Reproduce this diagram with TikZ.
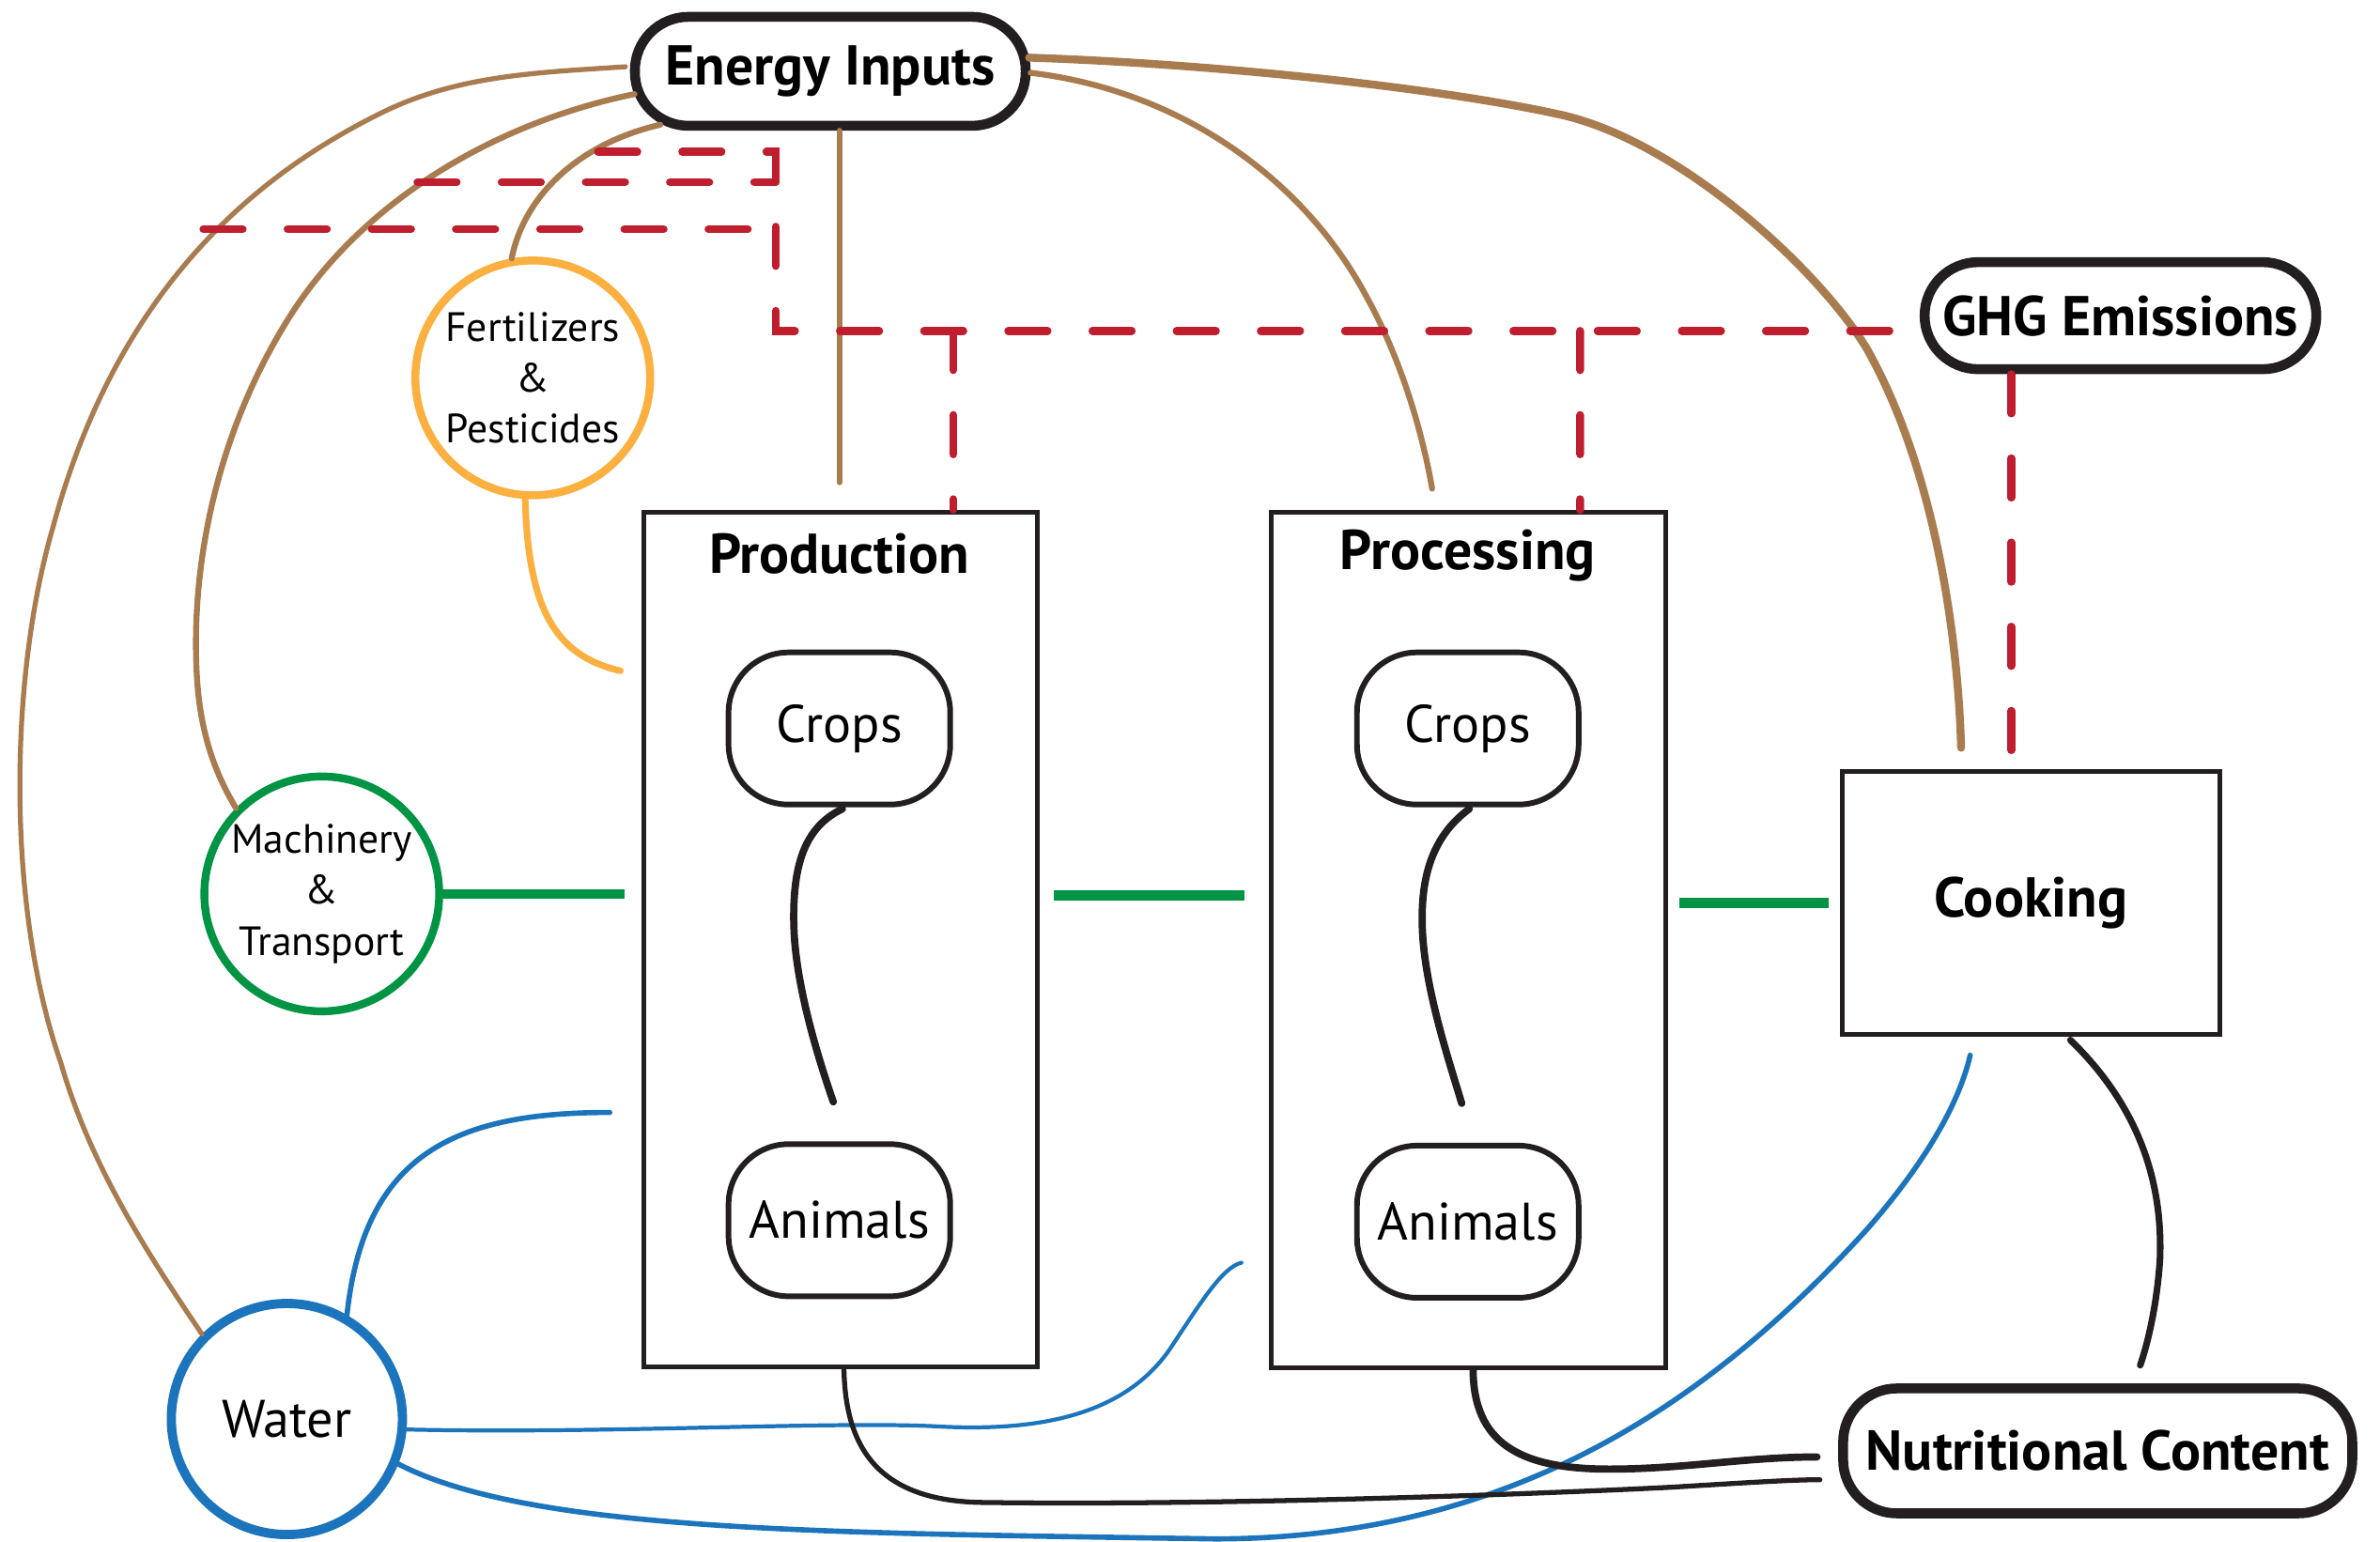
\documentclass[tikz,border=0pt]{standalone}
\usepackage{fontspec}
\setmainfont{PT Sans}
\usetikzlibrary{calc}
\definecolor{ebrown}{HTML}{A97C50}
\definecolor{ered}{HTML}{BE1E2D}
\definecolor{egreen}{HTML}{009444}
\definecolor{eblue}{HTML}{1C75BC}
\definecolor{eorange}{HTML}{FBB040}
\definecolor{eblack}{HTML}{231F20}
\newcommand{\myTitle}{\bfseries\fontsize{17pt}{20pt}\selectfont}
\newcommand{\myItem}{\fontsize{16pt}{19pt}\selectfont}
\newcommand{\mySmall}{\fontsize{12.4pt}{15.4pt}\selectfont}
\begin{document}
\begin{tikzpicture}[x=0.016161cm,y=-0.016161cm,
  brownline/.style={draw=ebrown, line width=1.8pt, line cap=round},
  redline/.style={draw=ered, line width=2.4pt, line cap=round, dash pattern=on 11.9pt off 13.6pt},
  greenline/.style={draw=egreen, line width=2.9pt},
  blueline/.style={draw=eblue, line width=1.6pt, line cap=round},
  blackline/.style={draw=eblack, line width=2.2pt, line cap=round},
  pill/.style={draw=eblack, fill=white, line width=3pt, rounded corners=0.57cm, inner sep=0pt, font=\myTitle},
  stage/.style={draw=eblack, line width=1.5pt, inner sep=0pt},
  item/.style={draw=eblack, fill=white, line width=1.7pt, rounded corners=0.64cm, minimum width=2.36cm, minimum height=1.62cm, inner sep=0pt, font=\myItem},
  input/.style={circle, fill=white, line width=2.4pt, minimum size=2.5cm, inner sep=0pt, align=center, font=\mySmall},
  stitle/.style={inner sep=0pt, font=\myTitle}
]
\useasboundingbox (0,0) rectangle (1568,1016);
% nodes
\node[pill, minimum width=4.16cm, minimum height=1.16cm] (energy) at (547,47) {Energy Inputs};
\node[pill, minimum width=4.17cm, minimum height=1.14cm] (ghg) at (1397,208) {GHG Emissions};
\node[pill, minimum width=5.42cm, minimum height=1.33cm] (nutr) at (1382,956) {Nutritional Content};
\node[input, draw=eorange] (fert) at (351,249) {Fertilizers\\\&\\Pesticides};
\node[input, draw=egreen] (mach) at (212,589) {Machinery\\\&\\Transport};
\node[input, draw=eblue, line width=2.8pt, minimum size=2.46cm, font=\myItem] (water) at (189,935) {Water};
\node[stage, minimum width=4.19cm, minimum height=9.10cm] (prod) at (554,619) {};
\node[stage, minimum width=4.20cm, minimum height=9.11cm] (proc) at (967.5,619.5) {};
\node[stage, minimum width=4.02cm, minimum height=2.80cm, font=\myTitle] (cook) at (1338,595) {Cooking};
\node[stitle] (prodtitle) at (553,365) {Production};
\node[stitle] (proctitle) at (967,366) {Processing};
\node[item] (crops1) at (553,480) {Crops};
\node[item] (animals1) at (553,804) {Animals};
\node[item] (crops2) at (967,480) {Crops};
\node[item] (animals2) at (967,805) {Animals};
% junction coordinates
\coordinate (ra) at (394,100);
\coordinate (rb) at (511,100);
\coordinate (rc) at (511,218);
\coordinate (rd) at (275,120);
\coordinate (re) at (511,120);
\coordinate (rf) at (134,151);
\coordinate (rg) at (500,151);
\coordinate (rh) at (628,218);
\coordinate (ri) at (1041,218);
% brown connectors
\draw[brownline, line width=1.5pt] ($(energy.west)+(-3,-3)$) .. controls (350,48) and (300,50) .. (250,75) .. controls (180,110) and (80,180) .. (35,347) .. controls (5,450) and (5,600) .. (40,700) .. controls (60,770) and (100,830) .. (water.north west);
\draw[brownline] ($(energy.west)+(3,15)$) .. controls (330,80) and (240,130) .. (190,210) .. controls (140,290) and (125,380) .. (130,450) .. controls (133,490) and (145,515) .. (mach.north west);
\draw[brownline] ($(energy.south west)+(20,-4)$) .. controls (380,95) and (345,130) .. (fert.100);
\draw[brownline] ($(energy.south)+(6,0)$) -- ($(prod.north)+(-1,-18)$);
\draw[brownline, line width=2.4pt] ($(energy.east)+(-1,-9)$) .. controls (800,42) and (950,58) .. (1030,76) .. controls (1110,95) and (1200,180) .. (1230,230) .. controls (1275,310) and (1290,420) .. ($(cook.north)+(-46,-14)$);
\draw[brownline] ($(energy.east)+(0,1)$) .. controls (780,60) and (860,120) .. (900,195) .. controls (925,240) and (938,290) .. ($(proc.north)+(-24,-14)$);
% red dashed connectors
\draw[redline] (ra) -- (rb) -- (rc) -- ($(ghg.west)+(-1,10)$);
\draw[redline] (rd) -- (re);
\draw[redline] (rf) -- (rg);
\draw[redline] (rh) -- ($(prod.north)+(74,0)$);
\draw[redline] (ri) -- ($(proc.north)+(73.5,0)$);
\draw[redline] ($(ghg.south)+(-72,0)$) -- ($(cook.north)+(-13,0)$);
% green connectors
\draw[greenline] (mach.east) -- ($(prod.west)+(-11,-30)$);
\draw[greenline] ($(prod.east)+(9,-29)$) -- ($(proc.west)+(-16,-29.5)$);
\draw[greenline] ($(proc.east)+(7,-24.5)$) -- ($(cook.west)+(-7,0)$);
% orange connector
\draw[draw=eorange, line width=2pt, line cap=round] ($(fert.south)+(-5,0)$) .. controls (348,400) and (365,432) .. ($(prod.west)+(-14,-177)$);
% blue connectors
\draw[blueline] (water.60) .. controls (240,760) and (300,733) .. ($(prod.west)+(-21,114)$);
\draw[blueline, line width=1.2pt] (water.-5) .. controls (400,945) and (550,936) .. (620,940) .. controls (700,944) and (745,925) .. (770,890) .. controls (790,860) and (805,835) .. ($(proc.west)+(-18,212.5)$);
\draw[blueline] (water.-22) .. controls (350,1010) and (550,1010) .. (800,1014) .. controls (1000,1014) and (1130,920) .. (1230,810) .. controls (1265,770) and (1290,730) .. ($(cook.south)+(-40,12)$);
% black connectors
\draw[blackline] ($(crops1.south)+(2,1)$) .. controls (530,545) and (522,570) .. (523,610) .. controls (524,650) and (540,700) .. ($(animals1.north)+(-4,-26)$);
\draw[blackline] ($(crops2.south)+(1,1)$) .. controls (945,550) and (936,575) .. (937,610) .. controls (938,650) and (955,700) .. ($(animals2.north)+(-4,-26)$);
\draw[blackline, line width=1.5pt] ($(prod.south)+(2,0)$) .. controls (557,950) and (575,990) .. (650,990) .. controls (800,992) and (1000,985) .. (1100,980) .. controls (1150,977) and (1180,975) .. ($(nutr.west)+(-12,19)$);
\draw[blackline] ($(proc.south)+(3,0)$) .. controls (971,950) and (1000,968) .. (1060,968) .. controls (1110,968) and (1150,960) .. ($(nutr.west)+(-14,4)$);
\draw[blackline, line width=2pt] ($(cook.south)+(26,2)$) .. controls (1410,730) and (1425,780) .. (1423,830) .. controls (1421,860) and (1415,885) .. ($(nutr.north)+(28,-12)$);
\end{tikzpicture}
\end{document}
